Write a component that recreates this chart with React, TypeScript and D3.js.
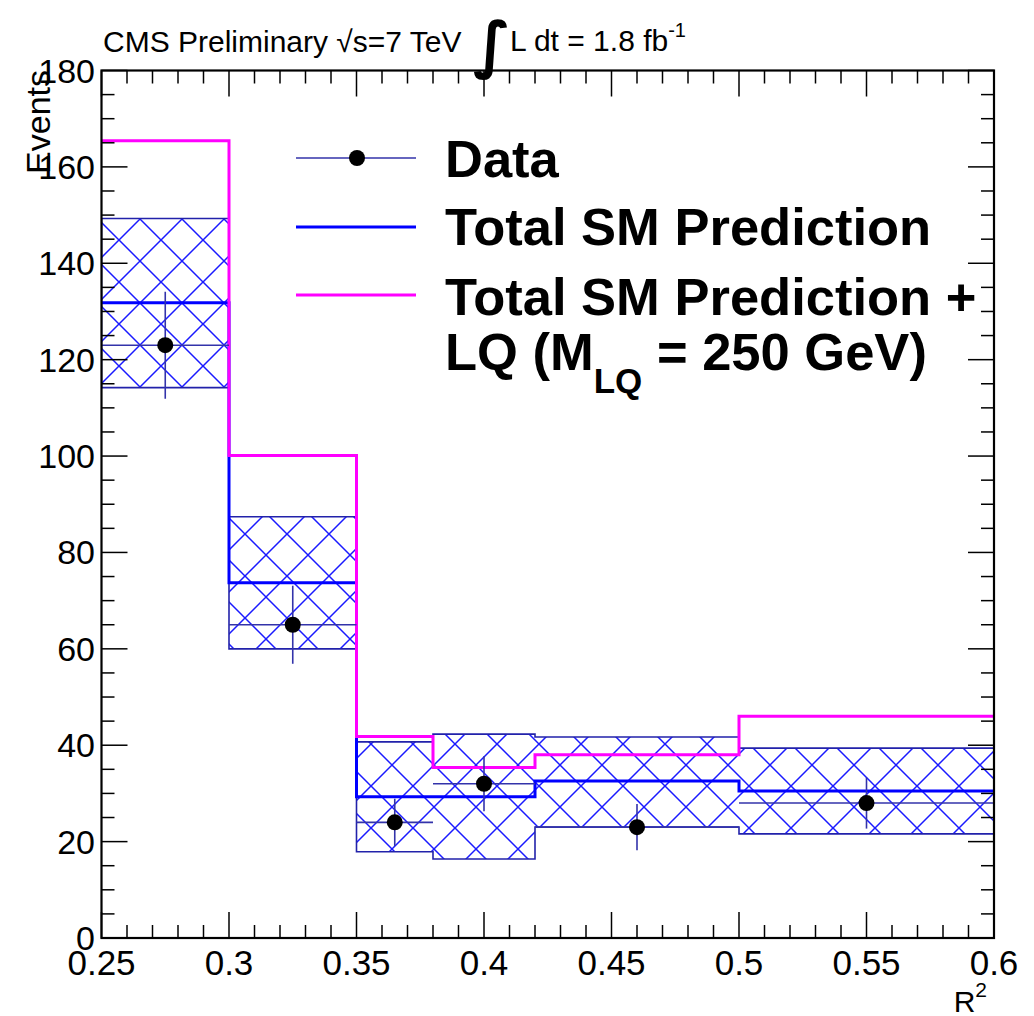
import React from "react";
import * as d3 from "d3";

// ---- data ----
const binEdges = [0.25, 0.3, 0.35, 0.38, 0.42, 0.5, 0.6];
const smPred = [131.8, 73.7, 29.3, 29.3, 32.6, 30.5];
const smUp = [149.3, 87.4, 40.7, 42.3, 41.7, 39.4];
const smDown = [114.2, 60.0, 17.9, 16.4, 23.0, 21.6];
const smLQ = [165.4, 100.1, 41.8, 35.4, 38.0, 46.0];
const dataX = [0.275, 0.325, 0.365, 0.4, 0.46, 0.55];
const dataY = [123, 65, 24, 32, 23, 28];
const dataErr = [11.1, 8.1, 4.9, 5.7, 4.8, 5.3];

const xTicks = [0.25, 0.3, 0.35, 0.4, 0.45, 0.5, 0.55, 0.6];
const xTickLabels = ["0.25", "0.3", "0.35", "0.4", "0.45", "0.5", "0.55", "0.6"];
const yTicks = [0, 20, 40, 60, 80, 100, 120, 140, 160, 180];
const yTickLabels = ["0", "20", "40", "60", "80", "100", "120", "140", "160", "180"];

const FONT = "'Liberation Sans', Arial, Helvetica, sans-serif";

export default function App() {
  const W = 1034, H = 1016;
  const L = 101.5, R = 994, T = 70.5, B = 938;
  const x = d3.scaleLinear().domain([0.25, 0.6]).range([L, R]);
  const y = d3.scaleLinear().domain([0, 180]).range([B, T]);

  const stepPts = (vals: number[]) => {
    const pts: [number, number][] = [];
    vals.forEach((v, i) => {
      pts.push([x(binEdges[i]), y(v)]);
      pts.push([x(binEdges[i + 1]), y(v)]);
    });
    return pts;
  };
  const line = d3.line();
  const bandPts = [...stepPts(smUp), ...stepPts(smDown).reverse()];
  const bandPath = line(bandPts) + "Z";

  const minorX = d3.range(0, 36).map((i) => 0.25 + i * 0.01);
  const minorY = d3.range(0, 37).map((i) => i * 5);
  const majLen = 26, minLen = 13;
  const s = 42;

  return (
    <svg width={W} height={H} style={{ position: "absolute", left: 0, top: 0, background: "#fff" }} fontFamily={FONT}>
      <defs>
        <pattern id="hatch" patternUnits="userSpaceOnUse" width={s} height={s} x={140 - s / 2} y={303 - s / 2}>
          <path d={`M0,0L${s},${s}M0,${s}L${s},0M${-s / 2},${s / 2}L${s / 2},${-s / 2}M${s / 2},${s * 1.5}L${s * 1.5},${s / 2}`} stroke="#1a1aff" strokeWidth={1.5} />
        </pattern>
        <clipPath id="frame">
          <rect x={L} y={T} width={R - L} height={B - T} />
        </clipPath>
      </defs>
      <rect width={W} height={H} fill="#fff" />

      <g clipPath="url(#frame)">
        {/* uncertainty band */}
        <path d={bandPath} fill="url(#hatch)" stroke="#2222aa" strokeWidth={1.6} />
        {/* SM prediction */}
        <path d={line(stepPts(smPred)) || ""} fill="none" stroke="#0000ff" strokeWidth={3} />
        {/* SM + LQ */}
        <path d={line(stepPts(smLQ)) || ""} fill="none" stroke="#ff00ff" strokeWidth={3} />
        {/* data */}
        {dataX.map((dx, i) => (
          <g key={i}>
            <line x1={x(binEdges[i])} x2={x(binEdges[i + 1])} y1={y(dataY[i])} y2={y(dataY[i])} stroke="#3333aa" strokeWidth={1.6} />
            <line x1={x(dx)} x2={x(dx)} y1={y(dataY[i] - dataErr[i])} y2={y(dataY[i] + dataErr[i])} stroke="#3333aa" strokeWidth={1.6} />
            <circle cx={x(dx)} cy={y(dataY[i])} r={8} fill="#000" />
          </g>
        ))}
      </g>

      {/* ticks */}
      <g stroke="#000" strokeWidth={1.5}>
        {minorX.map((v, i) => {
          const major = i % 5 === 0;
          const len = major ? majLen : minLen;
          return (
            <g key={"x" + i}>
              <line x1={x(v)} x2={x(v)} y1={B} y2={B - len} />
              <line x1={x(v)} x2={x(v)} y1={T} y2={T + len} />
            </g>
          );
        })}
        {minorY.map((v, i) => {
          const major = i % 4 === 0;
          const len = major ? majLen : minLen;
          return (
            <g key={"y" + i}>
              <line x1={L} x2={L + len} y1={y(v)} y2={y(v)} />
              <line x1={R} x2={R - len} y1={y(v)} y2={y(v)} />
            </g>
          );
        })}
      </g>
      <rect x={L} y={T} width={R - L} height={B - T} fill="none" stroke="#000" strokeWidth={2.2} />

      {/* tick labels */}
      {xTicks.map((v, i) => (
        <text key={"xl" + i} x={x(v)} y={975} fontSize={35} textAnchor="middle">{xTickLabels[i]}</text>
      ))}
      {yTicks.map((v, i) => (
        <text key={"yl" + i} x={95} y={y(v) + 12} fontSize={34} textAnchor="end">{yTickLabels[i]}</text>
      ))}

      {/* axis titles */}
      <text x={987} y={1012} fontSize={30} textAnchor="end">R<tspan fontSize={21} dy={-15}>2</tspan></text>
      <text transform="translate(50,70) rotate(-90)" fontSize={34} textAnchor="end">Events</text>

      {/* header */}
      <text x={103} y={52} fontSize={30}>CMS Preliminary √s=7 TeV</text>
      <text x={473} y={66} fontSize={62} fontWeight="bold" fontFamily="'DejaVu Sans', sans-serif">∫</text>
      <text x={510} y={51} fontSize={30}>L dt = 1.8 fb<tspan fontSize={20} dy={-14}>-1</tspan></text>

      {/* legend */}
      <line x1={296} x2={416} y1={158} y2={158} stroke="#3333aa" strokeWidth={1.6} />
      <circle cx={357} cy={158} r={8} fill="#000" />
      <line x1={296} x2={416} y1={227} y2={227} stroke="#0000ff" strokeWidth={3} />
      <line x1={296} x2={416} y1={295} y2={295} stroke="#ff00ff" strokeWidth={3} />
      <g fontWeight="bold" fontSize={52.5}>
        <text x={445} y={177}>Data</text>
        <text x={445} y={245}>Total SM Prediction</text>
        <text x={445} y={315}>Total SM Prediction +</text>
        <text x={445} y={370}>LQ (M<tspan fontSize={35} dy={23}>LQ</tspan><tspan dy={-23}> = 250 GeV)</tspan></text>
      </g>
    </svg>
  );
}
